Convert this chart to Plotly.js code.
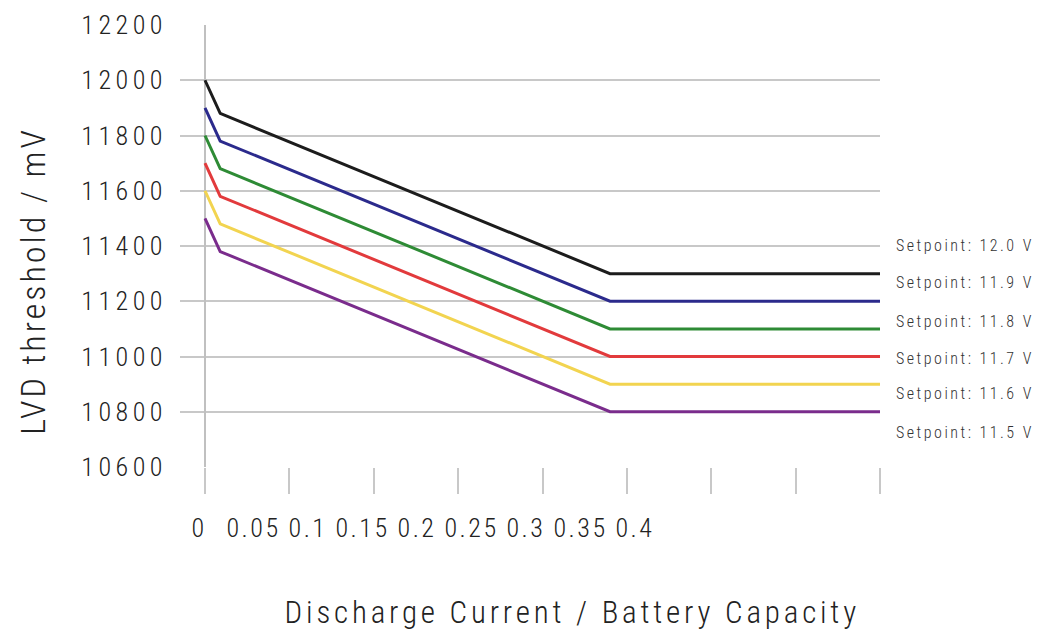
<!DOCTYPE html>
<html>
<head>
<meta charset="utf-8">
<script src="https://cdn.plot.ly/plotly-3.0.1.min.js"></script>
<style>
  html, body { margin: 0; padding: 0; background: #fff; }
  #chart { width: 1040px; height: 640px; }
  .ytick text { letter-spacing: 4.5px; }
  .x2tick text { letter-spacing: 2.5px; }
  .annotation-text { letter-spacing: 2.5px; }
  .annotation[data-index="6"] text { letter-spacing: 3px; }
  .annotation[data-index="7"] text { letter-spacing: 3.8px; }
</style>
</head>
<body>
<div id="chart"></div>
<script>
// ---- data ----
const ratio = [0, 0.009, 0.24, 0.4];
const setpoint120 = [12000, 11880, 11300, 11300];
const setpoint119 = [11900, 11780, 11200, 11200];
const setpoint118 = [11800, 11680, 11100, 11100];
const setpoint117 = [11700, 11580, 11000, 11000];
const setpoint116 = [11600, 11480, 10900, 10900];
const setpoint115 = [11500, 11380, 10800, 10800];
const seriesNames = ["Setpoint: 12.0 V", "Setpoint: 11.9 V", "Setpoint: 11.8 V",
                     "Setpoint: 11.7 V", "Setpoint: 11.6 V", "Setpoint: 11.5 V"];
const xTickVals = [0, 0.05, 0.1, 0.15, 0.2, 0.25, 0.3, 0.35, 0.4];
const xTickText = ["0", "0.05", "0.1", "0.15", "0.2", "0.25", "0.3", "0.35", "0.4"];
const yTickVals = [10600, 10800, 11000, 11200, 11400, 11600, 11800, 12000, 12200];
const yTickText = ["10600", "10800", "11000", "11200", "11400", "11600", "11800", "12000", "12200"];

// ---- styling ----
const FONT = '"Roboto Condensed", "Liberation Sans Narrow", "DejaVu Sans Condensed", sans-serif';
const colors = ["#1c1c1c", "#2b2a8c", "#2e8b35", "#e23a3c", "#f2d450", "#7a2c8c"];
const labelShift = [28, 19, 7, -2, -9, -21];
const allSeries = [setpoint120, setpoint119, setpoint118, setpoint117, setpoint116, setpoint115];

const traces = allSeries.map((ys, i) => ({
  type: 'scatter', mode: 'lines', x: ratio, y: ys, name: seriesNames[i],
  line: { color: colors[i], width: 3 }, xaxis: 'x', yaxis: 'y', hoverinfo: 'x+y+name'
}));
// invisible trace to activate the labelled axis
traces.push({ type: 'scatter', mode: 'lines', x: [0], y: [11000], xaxis: 'x2', yaxis: 'y',
  showlegend: false, hoverinfo: 'skip', line: { width: 0 }, opacity: 0 });

const annotations = seriesNames.map((n, i) => ({
  text: n, x: ratio[ratio.length - 1], y: allSeries[i][allSeries[i].length - 1],
  xref: 'x', yref: 'y', xanchor: 'left', yanchor: 'middle',
  xshift: 14, yshift: labelShift[i], showarrow: false,
  font: { family: FONT, size: 16, color: '#333', weight: 300 }
}));
annotations.push({
  text: 'LVD threshold / mV', textangle: -90, xref: 'paper', yref: 'paper',
  x: -0.21, y: 0.42, xanchor: 'center', yanchor: 'middle', showarrow: false,
  font: { family: FONT, size: 34, color: '#222', weight: 300 }
});
annotations.push({
  text: 'Discharge Current / Battery Capacity', xref: 'paper', yref: 'paper',
  x: 0.56, y: -0.33, xanchor: 'center', yanchor: 'middle', showarrow: false,
  font: { family: FONT, size: 31, color: '#222', weight: 300 }
});

const layout = {
  width: 1040, height: 640,
  margin: { l: 180, r: 160, t: 25, b: 173 },
  paper_bgcolor: '#fff', plot_bgcolor: '#fff',
  showlegend: false,
  font: { family: FONT, color: '#222' },
  xaxis: {
    range: [-0.014815, 0.4], tickvals: xTickVals, showticklabels: false,
    ticks: 'outside', ticklen: 26, tickwidth: 2, tickcolor: '#c8c8c8',
    showgrid: false, zeroline: true, zerolinecolor: '#c0c0c0', zerolinewidth: 2,
    showline: false, fixedrange: true
  },
  xaxis2: {
    overlaying: 'x', anchor: 'y', side: 'bottom',
    range: [-0.01743, 0.6248], tickvals: xTickVals, ticktext: xTickText,
    ticks: '', ticklabelstandoff: 43, showgrid: false, zeroline: false, showline: false,
    tickfont: { family: FONT, size: 26, color: '#222', weight: 300 }, fixedrange: true
  },
  yaxis: {
    range: [10600, 12200], tickvals: yTickVals, ticktext: yTickText, ticks: '', ticklabelstandoff: 12,
    showgrid: true, gridcolor: '#c8c8c8', gridwidth: 2, zeroline: false, showline: false,
    tickfont: { family: FONT, size: 26, color: '#222', weight: 300 }, fixedrange: true
  },
  annotations: annotations
};

Plotly.newPlot('chart', traces, layout, { displayModeBar: false, staticPlot: true });
</script>
</body>
</html>
